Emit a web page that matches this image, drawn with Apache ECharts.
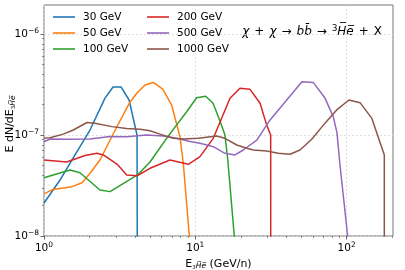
<!DOCTYPE html>
<html>
<head>
<meta charset="utf-8">
<script src="https://cdn.jsdelivr.net/npm/echarts@6/dist/echarts.min.js"></script>
<style>html,body{margin:0;padding:0;background:#fff}#c{width:405px;height:270px}</style>
</head>
<body>
<div id="c"></div>
<script>
// ---- data (E in GeV/n, E dN/dE) ----
const e30  = [1, 1.276, 1.603, 2.014, 2.53, 2.86, 3.23, 3.65, 4.12, 4.16];
const v30  = [2.12e-8, 3.58e-8, 6.34e-8, 1.12e-7, 2.32e-7, 2.99e-7, 2.99e-7, 2.22e-7, 1.0e-7, 1e-10];

const e50  = [1, 1.147, 1.531, 1.783, 2.014, 2.344, 2.99, 3.66, 4.10, 4.65, 5.28, 6.09, 6.98, 7.92, 8.33, 9.13, 9.37];
const v50  = [2.61e-8, 2.89e-8, 3.08e-8, 3.37e-8, 4.18e-8, 5.65e-8, 1.16e-7, 2.06e-7, 2.59e-7, 3.13e-7, 3.31e-7, 2.85e-7, 1.98e-7, 9.55e-8, 5.25e-8, 1.0e-8, 5.8e-9];

const e100 = [1, 1.485, 1.729, 2.344, 2.73, 4.15, 5.02, 6.47, 7.53, 8.77, 10.2, 11.7, 13.1, 14.6, 15.7, 16.4, 18.1, 18.6];
const v100 = [3.78e-8, 4.50e-8, 4.23e-8, 2.85e-8, 2.75e-8, 4.02e-8, 5.40e-8, 9.27e-8, 1.26e-7, 1.70e-7, 2.34e-7, 2.42e-7, 2.06e-7, 1.36e-7, 1.0e-7, 5.65e-8, 1.0e-8, 5.8e-9];

const e200 = [1, 1.413, 1.866, 2.24, 2.47, 3.05, 3.52, 4.12, 5.02, 6.80, 8.99, 10.74, 13.15, 16.95, 19.74, 23.0, 26.8, 29.6, 31.5, 31.55];
const v200 = [5.65e-8, 5.40e-8, 6.27e-8, 6.59e-8, 6.34e-8, 5.13e-8, 4.02e-8, 3.95e-8, 4.68e-8, 5.65e-8, 5.13e-8, 6.10e-8, 9.27e-8, 2.31e-7, 2.90e-7, 2.83e-7, 2.06e-7, 1.26e-7, 1.0e-7, 1e-10];

const e500 = [1, 1.096, 1.413, 2.014, 2.73, 3.52, 4.77, 6.14, 7.53, 9.22, 10.74, 13.15, 15.7, 18.3, 20.75, 23.0, 25.5, 31.2, 42.3, 50.7, 60.3, 72.0, 81.6, 86.4, 90.4, 101.6, 103.7];
const v500 = [8.58e-8, 9.13e-8, 9.06e-8, 9.13e-8, 9.67e-8, 9.62e-8, 1.0e-7, 9.77e-8, 9.27e-8, 8.62e-8, 8.27e-8, 7.66e-8, 6.59e-8, 6.34e-8, 7.10e-8, 7.96e-8, 8.91e-8, 1.41e-7, 2.43e-7, 3.37e-7, 3.30e-7, 2.32e-7, 1.52e-7, 1.05e-7, 5.05e-8, 1.0e-8, 5.8e-9];

const e1000 = [1, 1.096, 1.341, 1.562, 1.924, 2.17, 2.81, 3.52, 4.31, 5.02, 5.84, 7.15, 8.33, 10.47, 13.85, 15.7, 18.8, 21.9, 24.2, 29.6, 35.4, 42.3, 49.2, 58.8, 72.0, 86.0, 103.7, 122.7, 146.5, 177.5, 177.6];
const v1000 = [9.34e-8, 9.40e-8, 1.02e-7, 1.12e-7, 1.33e-7, 1.31e-7, 1.21e-7, 1.16e-7, 1.14e-7, 1.10e-7, 1.02e-7, 9.27e-8, 9.13e-8, 9.27e-8, 9.77e-8, 9.27e-8, 7.96e-8, 7.38e-8, 7.10e-8, 6.95e-8, 6.59e-8, 6.44e-8, 7.10e-8, 9.07e-8, 1.31e-7, 1.77e-7, 2.22e-7, 2.09e-7, 1.47e-7, 6.34e-8, 1e-10];

const seriesNames = ['30 GeV', '50 GeV', '100 GeV', '200 GeV', '500 GeV', '1000 GeV'];
const seriesE = [e30, e50, e100, e200, e500, e1000];
const seriesV = [v30, v50, v100, v200, v500, v1000];
const colors = ['#1f77b4', '#ff7f0e', '#2ca02c', '#d62728', '#9467bd', '#8c564b'];

const xMajorTicks = [1, 10, 100];
const xTickLabels = ['{b|10}{s|0}', '{b|10}{s|1}', '{b|10}{s|2}'];
const xMinorTicks = [2, 3, 4, 5, 6, 7, 8, 9, 20, 30, 40, 50, 60, 70, 80, 90, 200];
const yMajorTicks = [1e-8, 1e-7, 1e-6];
const yTickLabels = ['{b|10}{s|\u22128}', '{b|10}{s|\u22127}', '{b|10}{s|\u22126}'];
const yMinorTicks = [2e-8, 3e-8, 4e-8, 5e-8, 6e-8, 7e-8, 8e-8, 9e-8, 2e-7, 3e-7, 4e-7, 5e-7, 6e-7, 7e-7, 8e-7, 9e-7];
const xMin = 1, xMax = 202.6, yMin = 1e-8, yMax = 1.936e-6;

// ---- chart ----
const FONT = 'DejaVu Sans';
const tickRich = {
  b: { fontFamily: FONT, fontSize: 10.5, color: '#000' },
  s: { fontFamily: FONT, fontSize: 7.5, color: '#000', verticalAlign: 'top', padding: [0, 0, 6, 0] }
};
function labelFmt(ticks, labels) {
  return function (v) {
    for (let i = 0; i < ticks.length; i++) {
      if (Math.abs(Math.log10(v) - Math.log10(ticks[i])) < 1e-6) return labels[i];
    }
    return '';
  };
}

const chart = echarts.init(document.getElementById('c'), null, { renderer: 'canvas' });
const series = seriesNames.map((n, i) => ({
  name: n,
  type: 'line',
  xAxisIndex: 0,
  yAxisIndex: 0,
  data: seriesE[i].map((e, j) => [e, seriesV[i][j]]),
  showSymbol: false,
  symbol: 'none',
  lineStyle: { width: 1.5, color: colors[i] },
  itemStyle: { color: colors[i] },
  clip: true,
  animation: false
}));

const legendCommon = {
  orient: 'vertical',
  top: 9,
  padding: 0,
  itemGap: 0,
  itemWidth: 22,
  itemHeight: 1.6,
  icon: 'rect',
  textStyle: { fontFamily: FONT, fontSize: 10.5, color: '#000', lineHeight: 16, padding: [0, 0, 0, 3] }
};
const nameRich = {
  sub: { fontFamily: FONT, fontSize: 5.5, color: '#000', verticalAlign: 'bottom', padding: [3, 0, 0, 0] },
  subi: { fontFamily: FONT, fontSize: 7.5, fontStyle: 'italic', color: '#000', verticalAlign: 'bottom', padding: [5, 0, 0, 0] }
};
const nameRichG = {
  sub: { fontFamily: FONT, fontSize: 5.5, fill: '#000', verticalAlign: 'bottom', padding: [3, 0, 0, 0] },
  subi: { fontFamily: FONT, fontSize: 7.5, fontStyle: 'italic', fill: '#000', verticalAlign: 'bottom', padding: [5, 0, 0, 0] }
};
const HS = '\u200A';

chart.setOption({
  animation: false,
  color: colors,
  grid: {
    left: 44, right: 12, top: 5, bottom: 34,
    containLabel: false, outerBoundsMode: 'none',
    show: true, borderColor: '#777', borderWidth: 1, backgroundColor: 'transparent'
  },
  legend: [
    Object.assign({ left: 53, data: seriesNames.slice(0, 3) }, legendCommon),
    Object.assign({ left: 147, data: seriesNames.slice(3) }, legendCommon)
  ],
  xAxis: [
    {
      type: 'log', logBase: 10, min: xMin, max: xMax, position: 'bottom',
      axisLine: { show: false },
      axisTick: { show: true, length: 3.5, lineStyle: { color: '#444', width: 0.8 }, customValues: xMajorTicks },
      axisLabel: { customValues: xMajorTicks, formatter: labelFmt(xMajorTicks, xTickLabels), rich: tickRich, margin: 5 },
      splitLine: { show: true, lineStyle: { color: '#d8d8d8', width: 0.8, type: [2, 2] } },
      name: 'E{sub|3}{subi|H\u0305e\u0305} (GeV/n)',
      nameLocation: 'middle',
      nameGap: 9,
      nameTextStyle: { fontFamily: FONT, fontSize: 11, color: '#000', rich: nameRich }
    },
    {
      type: 'log', logBase: 10, min: xMin, max: xMax, position: 'bottom',
      axisLine: { show: false },
      axisTick: { show: true, length: 2, lineStyle: { color: '#444', width: 0.6 }, customValues: xMinorTicks },
      axisLabel: { show: false },
      splitLine: { show: false }
    }
  ],
  yAxis: [
    {
      type: 'log', logBase: 10, min: yMin, max: yMax, position: 'left',
      axisLine: { show: false },
      axisTick: { show: true, length: 3.5, lineStyle: { color: '#444', width: 0.8 }, customValues: yMajorTicks },
      axisLabel: { customValues: yMajorTicks, formatter: labelFmt(yMajorTicks, yTickLabels), rich: tickRich, margin: 5 },
      splitLine: { show: true, lineStyle: { color: '#d8d8d8', width: 0.8, type: [2, 2] } }
    },
    {
      type: 'log', logBase: 10, min: yMin, max: yMax, position: 'left',
      axisLine: { show: false },
      axisTick: { show: true, length: 2, lineStyle: { color: '#444', width: 0.6 }, customValues: yMinorTicks },
      axisLabel: { show: false },
      splitLine: { show: false }
    }
  ],
  graphic: [
    {
      type: 'text',
      right: 23,
      top: 24,
      style: {
        text: '{i|\u03C7}' + HS + ' + ' + HS + '{i|\u03C7}' + HS + ' \u2192 ' + HS + '{i|bb\u0304}' + HS + ' \u2192 ' + HS + '{sup|3}{i|H\u0305e\u0305}' + HS + ' + ' + HS + 'X',
        fontFamily: FONT,
        fontSize: 12,
        fill: '#000',
        rich: {
          i: { fontFamily: FONT, fontSize: 12, fontStyle: 'italic', fill: '#000' },
          sup: { fontFamily: FONT, fontSize: 8.5, fill: '#000', verticalAlign: 'top', padding: [0, 0, 6, 0] }
        }
      }
    },
    {
      type: 'text',
      x: 10.5,
      y: 124,
      rotation: Math.PI / 2,
      style: {
        text: 'E dN/dE{sub|3}{subi|H\u0305e\u0305}',
        fontFamily: FONT,
        fontSize: 11,
        fill: '#000',
        align: 'center',
        verticalAlign: 'middle',
        rich: nameRichG
      }
    }
  ],
  series: series
});
</script>
</body>
</html>
